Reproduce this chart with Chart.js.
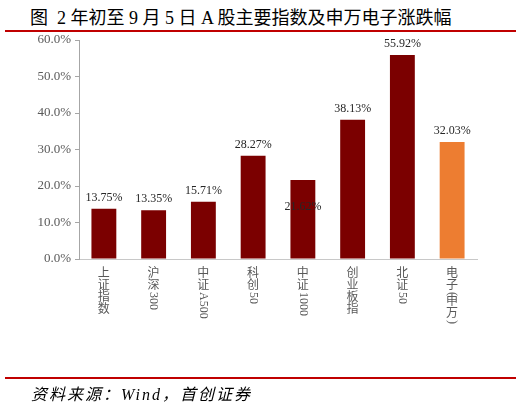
<!DOCTYPE html>
<html>
<head>
<meta charset="utf-8">
<script src="https://cdn.jsdelivr.net/npm/chart.js@4.4.0/dist/chart.umd.min.js"></script>
<style>
body{margin:0;background:#fff;}
#wrap{position:relative;width:521px;height:406px;overflow:hidden;background:#fff;}
#title{position:absolute;left:30px;top:3px;font:18px "Liberation Serif","Noto Sans CJK SC";color:#000;white-space:pre;}
.rule{position:absolute;left:5px;width:511px;background:#C00000;}
#foot{position:absolute;left:31px;top:381px;font:italic 16px "Liberation Serif","Noto Sans CJK SC";color:#000;white-space:pre;letter-spacing:2px;}
#box{position:absolute;left:0;top:0;width:521px;height:406px;}
</style>
</head>
<body>
<div id="wrap">
  <div id="title">图  2 年初至 9 月 5 日 A 股主要指数及申万电子涨跌幅</div>
  <div class="rule" style="top:30px;height:2px;"></div>
  <div id="box"><canvas id="chartStuff" width="521" height="406"></canvas></div>
  <div class="rule" style="top:377px;height:2px;"></div>
  <div id="foot">资料来源：Wind，首创证券</div>
</div>
<script>
// chart data
var categories = ['上证指数', '沪深300', '中证A500', '科创50', '中证1000', '创业板指', '北证50', '电子(申万)'];
var changes = [13.75, 13.35, 15.71, 28.27, 21.62, 38.13, 55.92, 32.03];
var yTicks = [0, 10, 20, 30, 40, 50, 60];
var highlight = '电子(申万)';

//draws the value labels and the vertical category names
var labelPlugin = {
  id: 'labelPlugin',
  afterDatasetsDraw: function(chart) {
    var ctx = chart.ctx;
    var meta = chart.getDatasetMeta(0);
    ctx.save();
    ctx.font = '12px "Liberation Serif"';
    ctx.fillStyle = '#262626';
    ctx.textAlign = 'center';
    meta.data.forEach(function(bar, i) {
      var txt = changes[i].toFixed(2) + '%';
      if (categories[i] == '中证1000') {
        // in the original this one sits inside the bar
        ctx.textBaseline = 'middle';
        ctx.fillText(txt, bar.x, bar.y + 27);
      } else {
        ctx.textBaseline = 'bottom';
        ctx.fillText(txt, bar.x, bar.y - 5);
      }
    });

    var xs = chart.scales.x;
    ctx.font = '12px "Liberation Serif", "Noto Sans CJK SC"';
    ctx.fillStyle = '#595959';
    categories.forEach(function(name, i) {
      var x = xs.getPixelForTick(i);
      var y = 268;
      var parts = name.match(/[\u2E80-\uFFFF]|[^\u2E80-\uFFFF]+/g);
      parts.forEach(function(p) {
        if (/[\u2E80-\uFFFF]/.test(p)) {
          ctx.textAlign = 'center';
          ctx.textBaseline = 'top';
          ctx.fillText(p, x, y);
          y += 12;
        } else {
          var w = ctx.measureText(p).width;
          ctx.save();
          ctx.translate(x, y);
          ctx.rotate(Math.PI / 2);
          ctx.textAlign = 'left';
          ctx.textBaseline = 'middle';
          ctx.fillText(p, 0, 0);
          ctx.restore();
          y += w;
        }
      });
    });
    ctx.restore();
  }
};

var ctx = document.getElementById('chartStuff').getContext('2d');
var myChart = new Chart(ctx, {
  type: 'bar',
  data: {
    labels: categories,
    datasets: [{
      data: changes,
      backgroundColor: categories.map(function(c) { return c == highlight ? '#ED7D31' : '#7B0000'; }),
      barPercentage: 0.5,
      categoryPercentage: 1
    }]
  },
  options: {
    responsive: false,
    animation: false,
    layout: { padding: { top: 40, right: 44, left: 0, bottom: 0 } },
    plugins: { legend: { display: false }, tooltip: { enabled: false } },
    scales: {
      x: {
        grid: { display: false },
        border: { display: true, color: '#C8C8C8' },
        ticks: { display: false },
        afterFit: function(s) { s.height = 147; }
      },
      y: {
        min: yTicks[0],
        max: yTicks[yTicks.length - 1],
        afterBuildTicks: function(s) { s.ticks = yTicks.map(function(v) { return { value: v }; }); },
        grid: { drawOnChartArea: false, drawTicks: true, tickLength: 4, color: '#A6A6A6' },
        border: { display: true, color: '#A6A6A6' },
        ticks: {
          padding: 4,
          color: '#595959',
          font: { family: 'Liberation Serif', size: 13 },
          callback: function(v) { return v.toFixed(1) + '%'; }
        },
        afterFit: function(s) { s.width = 79; }
      }
    }
  },
  plugins: [labelPlugin]
});
</script>
</body>
</html>
